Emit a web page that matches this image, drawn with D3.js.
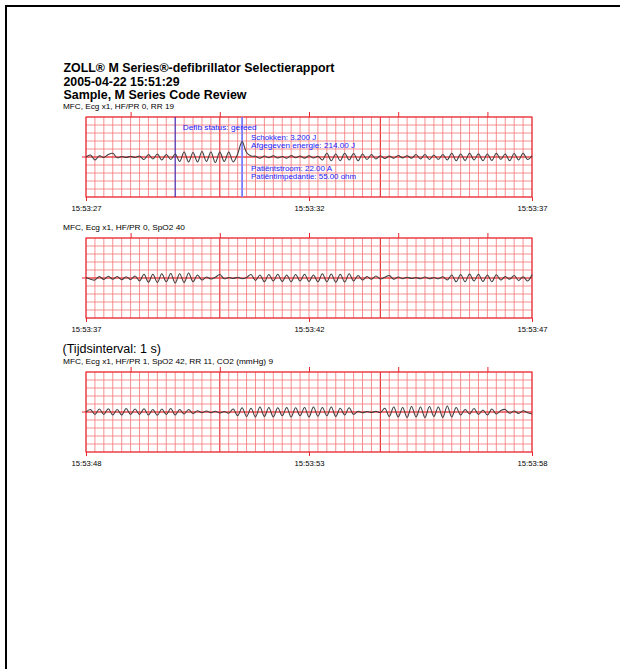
<!DOCTYPE html>
<html>
<head>
<meta charset="utf-8">
<script src="https://cdn.jsdelivr.net/npm/d3@7"></script>
<style>
  html, body { margin: 0; padding: 0; background: #fff; }
  svg { display: block; }
  text { font-family: "Liberation Sans", Arial, sans-serif; }
</style>
</head>
<body>
<script>
// ---------------- DATA ----------------
const titleLines = [
  "ZOLL\u00AE M Series\u00AE-defibrillator Selectierapport",
  "2005-04-22 15:51:29",
  "Sample, M Series Code Review"
];
const intervalLabel = "(Tijdsinterval: 1 s)";
const stripHeaders = [
  "MFC, Ecg x1, HF/PR 0, RR 19",
  "MFC, Ecg x1, HF/PR 0, SpO2 40",
  "MFC, Ecg x1, HF/PR 1, SpO2 42, RR 11, CO2 (mmHg) 9"
];
const tickSeconds = [0, 5, 10];
const strip1TickLabels = ["15:53:27", "15:53:32", "15:53:37"];
const strip2TickLabels = ["15:53:37", "15:53:42", "15:53:47"];
const strip3TickLabels = ["15:53:48", "15:53:53", "15:53:58"];
const topTickSeconds = [1, 3, 5, 7, 9];

// ECG samples (mV) every 0.1 s over each 10 s strip
const ecg1 = [
  0, 0.08, -0.12, 0.05, -0.02, 0.1, 0.15,
  -0.03, 0.02, -0.02, 0.03, -0.02, 0.04,
  -0.1, 0.1, -0.08, 0.12, -0.12, 0.1, -0.1, 0.12,
  -0.18, 0.2, -0.2, 0.18, -0.2, 0.22, -0.18, 0.2, -0.22, 0.2, -0.18, 0.2, -0.2, 0.12,
  0.62, 0.18, 0.04,
  0.03, -0.05, 0.04, -0.03, 0.05, -0.04, 0.02, -0.05, 0.06, -0.03, 0.04, -0.05, 0.05, -0.04, 0.03,
  -0.12, 0.15, -0.15, 0.12, -0.15, 0.15, -0.12, 0.14, -0.15, 0.12, -0.1, 0.1, -0.08,
  0.05, -0.06, 0.04, -0.05, 0.06, -0.04, 0.05, -0.05,
  0.1, -0.08, 0.1, -0.1, 0.08, -0.1, 0.1,
  -0.12, 0.15, -0.15, 0.12, -0.14, 0.15, -0.12, 0.13, -0.15, 0.12, -0.14, 0.15, -0.1, 0.12, -0.15, 0.14, -0.12, 0.15, -0.1, 0.05
];
const ecg2 = [
  0.02, -0.05, -0.08,
  0.06, -0.06, 0.07, -0.05, 0.06, -0.07, 0.05, -0.06, 0.08,
  -0.12, 0.15, -0.17, 0.15, -0.18, 0.17, -0.15, 0.18, -0.2, 0.17, -0.18, 0.2, -0.15, 0.12, -0.08,
  0.04, -0.04, 0.03, 0.14, -0.03, 0.02, -0.02, 0.03, -0.03, 0.02, 0.14,
  -0.1, 0.12, -0.15, 0.14, -0.12, 0.15, -0.14, 0.12, -0.15, 0.14, -0.12, 0.15, -0.14, 0.12,
  -0.15, 0.17, -0.15, 0.16, -0.17, 0.15, -0.16, 0.17, -0.12, 0.1, -0.08, 0.06,
  -0.05, 0.08, -0.04, 0.03, 0.1, -0.05, 0.04,
  -0.03, 0.03, -0.02, 0.02, -0.03, 0.04, -0.03, 0.02, -0.03, 0.05,
  -0.08, 0.12, -0.15, 0.14, -0.15, 0.16, -0.12, 0.15, -0.14, 0.12, -0.15, 0.13,
  -0.08, 0.06, -0.05, 0.1, -0.1, 0.05, -0.12, 0.14
];
const ecg3 = [
  0, 0.1, -0.1, 0.12, -0.1, 0.13, -0.12, 0.1, -0.12, 0.14, -0.1, 0.12, -0.1,
  0.13, -0.12, 0.1, -0.13, 0.12, -0.1, 0.14, -0.12, 0.1, -0.08, 0.1, -0.06, 0.05,
  -0.03, 0.04, -0.03, 0.03, -0.04, 0.02, -0.05,
  0.12, -0.15, 0.17, -0.18, 0.15, -0.2, 0.2, -0.18, 0.18, -0.2, 0.17, -0.15, 0.18, -0.2, 0.17, -0.15,
  0.18, -0.2, 0.2, -0.17, 0.18, -0.15, 0.2, -0.18, 0.15, -0.12, 0.17, -0.1,
  0.03, -0.03, 0.02, -0.02, 0.03, -0.02,
  0.15, -0.18, 0.2, -0.2, 0.18, -0.22, 0.22, -0.2, 0.2, -0.22, 0.22, -0.18, 0.2, -0.22, 0.24, -0.2, 0.18, -0.12,
  0.1, -0.08, 0.14, -0.1, 0.08, -0.12, 0.12, -0.08, 0.06,
  0.1, -0.05, 0.04, -0.06, 0.05, -0.03, -0.08
];

// Event markers on strip 1 (seconds from strip start)
const markerTimes = [2.0, 3.5];
const markerNotes = [
  ["Defib status: gereed"],
  ["Schokken: 3.200 J", "Afgegeven energie: 214.00 J"],
  ["Pati\u00EBntstroom: 22.00 A", "Pati\u00EBntimpedantie: 55.00 ohm"]
];

// ---------------- LAYOUT ----------------
const W = 620, H = 669;
const left = 86, right = 532, stripH = 80;
const stripTops = [117, 238, 372];
const yMax = 1.6;
const strips = [
  { header: stripHeaders[0], labels: strip1TickLabels, ecg: ecg1 },
  { header: stripHeaders[1], labels: strip2TickLabels, ecg: ecg2 },
  { header: stripHeaders[2], labels: strip3TickLabels, ecg: ecg3 }
];

const svg = d3.select("body").append("svg")
  .attr("width", W).attr("height", H);
svg.append("rect").attr("width", W).attr("height", H).attr("fill", "#fff");

// page frame
svg.append("line").attr("x1", 5).attr("x2", W).attr("y1", 6).attr("y2", 6)
  .attr("stroke", "#000").attr("stroke-width", 2);
svg.append("line").attr("x1", 6).attr("x2", 6).attr("y1", 5).attr("y2", H)
  .attr("stroke", "#000").attr("stroke-width", 2);

// titles
const titleBaselines = [72.3, 85.8, 99.2];
const titleWidths = [271, 116, 183];
titleLines.forEach((t, i) => {
  svg.append("text").attr("x", 63.5).attr("y", titleBaselines[i])
    .attr("font-size", 12.5).attr("font-weight", "bold").attr("fill", "#000")
    .attr("textLength", titleWidths[i]).attr("lengthAdjust", "spacingAndGlyphs")
    .text(t);
});

svg.append("text").attr("x", 62.5).attr("y", 353.3)
  .attr("font-size", 12.5).attr("fill", "#000")
  .attr("textLength", 98.5).attr("lengthAdjust", "spacingAndGlyphs")
  .text(intervalLabel);

const headerWidths = [111, 122, 210];

const gridMinor = "#f27474";
const gridMajor = "#e8262e";

strips.forEach((s, si) => {
  const top = stripTops[si];
  const x = d3.scaleLinear().domain([0, 10]).range([left, right]);
  const y = d3.scaleLinear().domain([-yMax, yMax]).range([top + stripH, top]);
  const g = svg.append("g");

  // header
  svg.append("text").attr("x", 63).attr("y", top - 8.5)
    .attr("font-size", 8).attr("fill", "#000")
    .attr("textLength", headerWidths[si]).attr("lengthAdjust", "spacingAndGlyphs")
    .text(s.header);

  // minor vertical grid
  const vx = d3.range(0, 51).map(k => k * 0.2);
  g.selectAll("line.v").data(vx).join("line")
    .attr("x1", d => x(d)).attr("x2", d => x(d))
    .attr("y1", y(yMax)).attr("y2", y(-yMax))
    .attr("stroke", (d, k) => (k === 15 || k === 33) ? gridMajor : gridMinor)
    .attr("stroke-width", (d, k) => (k === 15 || k === 33) ? 1.1 : 0.8);
  // minor horizontal grid
  const hy = d3.range(0, 11).map(k => -yMax + k * (2 * yMax / 10));
  g.selectAll("line.h").data(hy).join("line")
    .attr("x1", x(0)).attr("x2", x(10))
    .attr("y1", d => y(d)).attr("y2", d => y(d))
    .attr("stroke", gridMinor).attr("stroke-width", 0.8);

  // baseline (extends left)
  g.append("line").attr("x1", x(0) - 4).attr("x2", x(10))
    .attr("y1", y(0)).attr("y2", y(0))
    .attr("stroke", gridMajor).attr("stroke-width", 1);

  // border
  g.append("rect").attr("x", x(0)).attr("y", y(yMax))
    .attr("width", x(10) - x(0)).attr("height", y(-yMax) - y(yMax))
    .attr("fill", "none").attr("stroke", gridMajor).attr("stroke-width", 1.1);

  // top ticks
  const topAxis = d3.axisTop(x).tickValues(topTickSeconds).tickSize(5).tickFormat("");
  const ta = g.append("g").attr("transform", `translate(0,${y(yMax)})`).call(topAxis);
  ta.select(".domain").remove();
  ta.selectAll("line").attr("stroke", gridMajor).attr("stroke-width", 1);

  // bottom ticks + time labels
  const botAxis = d3.axisBottom(x).tickValues(tickSeconds).tickSize(4)
    .tickPadding(4.5).tickFormat((d, k) => s.labels[k]);
  const ba = g.append("g").attr("transform", `translate(0,${y(-yMax)})`).call(botAxis);
  ba.select(".domain").remove();
  ba.selectAll("line").attr("stroke", gridMajor).attr("stroke-width", 1);
  ba.selectAll("text").attr("fill", "#000").attr("font-size", 8)
    .attr("font-family", "Liberation Sans, Arial, sans-serif")
    .attr("textLength", 30).attr("lengthAdjust", "spacingAndGlyphs");

  // markers (strip 1 only)
  if (si === 0) {
    const mcol = ["#2424c8", "#7c7cff"];
    const mw = [1, 1.8];
    markerTimes.forEach((t, k) => {
      g.append("line").attr("x1", x(t)).attr("x2", x(t))
        .attr("y1", y(yMax)).attr("y2", y(-yMax))
        .attr("stroke", mcol[k]).attr("stroke-width", mw[k]);
    });
  }

  // ECG trace
  const step = 10 / (s.ecg.length - 1);
  const line = d3.line()
    .x((d, k) => x(k * step))
    .y(d => y(d))
    .curve(d3.curveCatmullRom.alpha(0.5));
  g.append("path").datum(s.ecg).attr("d", line)
    .attr("fill", "none").attr("stroke", "#404040").attr("stroke-width", 1.1);

  if (si === 0) {
    const blue = "#1a1aff";
    const notes = [
      { t: markerTimes[0], dx: 7.5, ys: [129.8], ws: [74] },
      { t: markerTimes[1], dx: 9, ys: [139.6, 147.6], ws: [65, 104] },
      { t: markerTimes[1], dx: 9, ys: [170.8, 178.8], ws: [81, 105] }
    ];
    notes.forEach((n, k) => {
      markerNotes[k].forEach((txt, j) => {
        g.append("text").attr("x", x(n.t) + n.dx).attr("y", n.ys[j])
          .attr("font-size", 7.8).attr("fill", blue)
          .attr("textLength", n.ws[j]).attr("lengthAdjust", "spacingAndGlyphs")
          .text(txt);
      });
    });
  }
});
</script>
</body>
</html>
